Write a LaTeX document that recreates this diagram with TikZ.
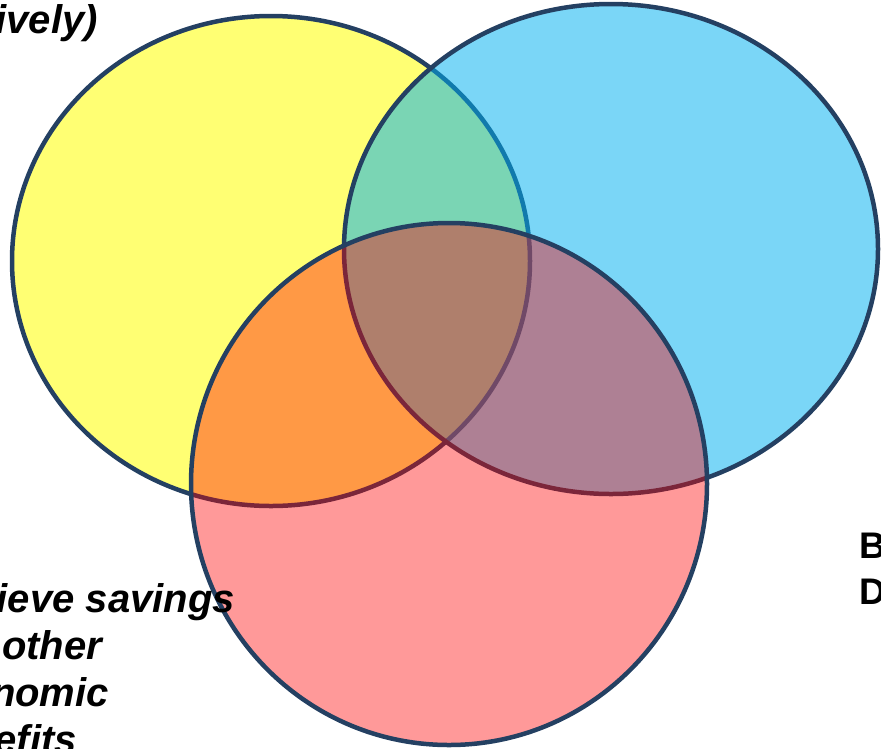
\documentclass[tikz,border=0pt]{standalone}
\usepackage{fontspec}
\setmainfont{Liberation Sans}
\begin{document}
\begin{tikzpicture}[x=1pt,y=-1pt]
  \definecolor{rim}{RGB}{36,64,98}
  \definecolor{sunfill}{RGB}{255,255,115}
  \definecolor{skyfill}{RGB}{0,176,240}
  \definecolor{rosefill}{RGB}{255,0,0}
  \tikzset{
    setring/.style={draw=rim, line width=4.5pt},
    note/.style={inner sep=0pt, font=\fontsize{40}{47}\selectfont\bfseries\itshape},
    uprightnote/.style={inner sep=0pt, font=\fontsize{37}{45}\selectfont\bfseries}
  }
  \useasboundingbox (0,0) rectangle (881,748);

  % the three overlapping sets
  \draw[setring, fill=sunfill] (271,261) ellipse [x radius=259, y radius=245];
  \draw[setring, fill=skyfill, fill opacity=0.52] (611,249) ellipse [x radius=267, y radius=245];
  \draw[setring, fill=rosefill, fill opacity=0.40] (449,484) ellipse [x radius=258, y radius=261];

  % captions around the sets
  \node[note, anchor=base east] (capA) at (98,33) {ively)};
  \node[note, anchor=base east] (capB1) at (235,612) {ieve savings};
  \node[note, anchor=base west] (capB2) at (2,659) {other};
  \node[note, anchor=base east] (capB3) at (109,706) {nomic};
  \node[note, anchor=base east] (capB4) at (77,753) {efits};
  \node[uprightnote, anchor=base west] (capC1) at (859,558) {B};
  \node[uprightnote, anchor=base west] (capC2) at (859,604) {D};
\end{tikzpicture}
\end{document}
